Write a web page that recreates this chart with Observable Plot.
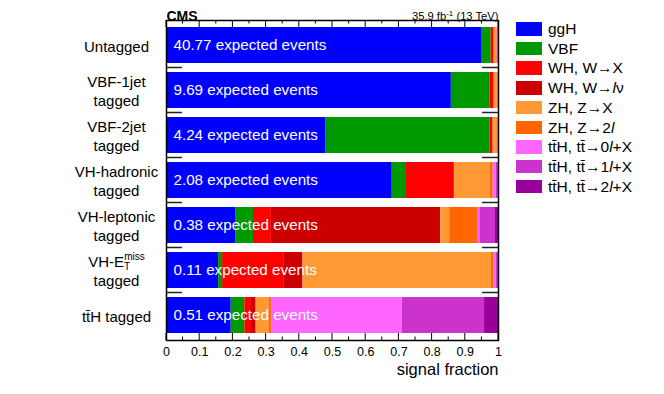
<!DOCTYPE html>
<html><head><meta charset="utf-8">
<script src="https://cdn.jsdelivr.net/npm/d3@7"></script>
<script src="https://cdn.jsdelivr.net/npm/@observablehq/plot@0.6"></script>
<style>
body{margin:0;background:#fff;font-family:"Liberation Sans",Arial,Helvetica,sans-serif;}
#wrap{position:relative;width:664px;height:394px;}
#legend{position:absolute;left:516px;top:19px;font-size:15.5px;color:#000;line-height:1;}
.row{display:flex;align-items:center;height:19.7px;white-space:nowrap;}
.sw{width:26px;height:13.5px;margin-right:6px;flex:none;}
</style></head><body><div id="wrap"><div id="legend"></div></div>
<script>
// categories (top to bottom)
const categories = ["Untagged","VBF-1jet tagged","VBF-2jet tagged","VH-hadronic tagged","VH-leptonic tagged","VH-ETmiss tagged","ttH tagged"];
const categoryLabels = ["Untagged","VBF-1jet\ntagged","VBF-2jet\ntagged","VH-hadronic\ntagged","VH-leptonic\ntagged","VH-E\ntagged","t\u0074\u0304H tagged"];
const expectedEvents = [40.77, 9.69, 4.24, 2.08, 0.38, 0.11, 0.51];

// signal processes
const processes = ["ggH","VBF","WH, W->X","WH, W->lv","ZH, Z->X","ZH, Z->2l","ttH, tt->0l+X","ttH, tt->1l+X","ttH, tt->2l+X"];
const legendLabels = ["ggH","VBF","WH, W\u2192X","WH, W\u2192<i>l</i>\u03bd","ZH, Z\u2192X","ZH, Z\u21922<i>l</i>",
  "tt\u0304H, tt\u0304\u21920<i>l</i>+X","tt\u0304H, tt\u0304\u21921<i>l</i>+X","tt\u0304H, tt\u0304\u21922<i>l</i>+X"];
const processColors = ["#0000ff","#009900","#ff0000","#cc0000","#ff9933","#ff6600","#ff66ff","#cc33cc","#990099"];

// signal fractions per category (same order as categories)
const ggH   = [0.951, 0.858, 0.481, 0.680, 0.208, 0.157, 0.195];
const VBF   = [0.027, 0.116, 0.493, 0.043, 0.054, 0.012, 0.041];
const WHX   = [0.008, 0.012, 0.009, 0.144, 0.054, 0.184, 0.020];
const WHlv  = [0.001, 0.001, 0.001, 0.001, 0.510, 0.058, 0.014];
const ZHX   = [0.007, 0.009, 0.011, 0.108, 0.027, 0.568, 0.040];
const ZH2l  = [0.002, 0.002, 0.002, 0.008, 0.086, 0.007, 0.006];
const ttH0l = [0.002, 0.001, 0.002, 0.009, 0.005, 0.007, 0.394];
const ttH1l = [0.001, 0.001, 0.001, 0.005, 0.047, 0.005, 0.248];
const ttH2l = [0.001, 0.000, 0.000, 0.002, 0.009, 0.002, 0.042];
const series = [ggH, VBF, WHX, WHlv, ZHX, ZH2l, ttH0l, ttH1l, ttH2l];

const xTicks = [0,0.1,0.2,0.3,0.4,0.5,0.6,0.7,0.8,0.9,1];
const xMinorTicks = [0.05,0.15,0.25,0.35,0.45,0.55,0.65,0.75,0.85,0.95];

const rows = processes.flatMap((p,i) => categories.map((c,j) => ({category:c, process:p, fraction:series[i][j]})));

const font = "'Liberation Sans', Arial, Helvetica, sans-serif";
const plot = Plot.plot({
  width:664, height:394,
  marginLeft:166, marginRight:166, marginTop:20, marginBottom:54,
  style:{fontFamily:font, background:"white", color:"black", overflow:"visible"},
  x:{domain:[0,1]},
  y:{domain:categories, paddingInner:0.19, paddingOuter:0.095},
  color:{domain:processes, range:processColors},
  marks:[
    Plot.barX(rows, {x:"fraction", y:"category", fill:"process", order:processes}),
    Plot.text(categories, {x:0, y:d=>d, text:(d,i)=>expectedEvents[i].toFixed(2)+" expected events",
      textAnchor:"start", dx:7, fill:"white", fontSize:15.2}),
    Plot.axisY({tickSize:0, tickPadding:50, textAnchor:"middle", fontSize:15, lineHeight:1.25,
      tickFormat:d=>categoryLabels[categories.indexOf(d)], label:null}),
    Plot.axisX({ticks:xTicks, tickSize:0, tickPadding:7, tickFormat:d=>String(d), fontSize:12.5, label:null}),
    Plot.text(["CMS"], {frameAnchor:"top-left", dy:-9, textAnchor:"start", fontWeight:"bold", fontSize:14}),
    Plot.text(["35.9 fb-1 (13 TeV)"], {frameAnchor:"top-right", dy:-8, textAnchor:"end", fontSize:11.2}),
    Plot.text(["signal fraction"], {frameAnchor:"bottom-right", dy:34, textAnchor:"end", fontSize:16.5}),
    Plot.frame({stroke:"black", strokeWidth:1.5})
  ]
});
document.getElementById("wrap").prepend(plot);

const svgNS = "http://www.w3.org/2000/svg";
const xs = plot.scale("x"), ys = plot.scale("y");
const fy0 = Math.min(ys.range[0], ys.range[1]), fy1 = Math.max(ys.range[0], ys.range[1]);
// axis ticks drawn inside the frame, below the bars
const barsG = plot.querySelector('g[aria-label="bar"]');
const tg = d3.create("svg:g").attr("stroke","black").attr("stroke-width",1);
for (const [arr,len] of [[xTicks,7],[xMinorTicks,3.5]]) {
  for (const t of arr) {
    const px = xs.apply(t);
    tg.append("line").attr("x1",px).attr("x2",px).attr("y1",fy0).attr("y2",fy0+len);
    tg.append("line").attr("x1",px).attr("x2",px).attr("y1",fy1).attr("y2",fy1-len);
  }
}
barsG.parentNode.insertBefore(tg.node(), barsG);
// category boundary ticks
const bg = d3.select(plot).append("g").attr("stroke","#222").attr("stroke-width",1.5);
const xl = xs.apply(0), xr = xs.apply(1);
for (let i=1;i<categories.length;i++){
  const yb = (ys.apply(categories[i-1]) + ys.bandwidth + ys.apply(categories[i]))/2;
  bg.append("line").attr("x1",xl).attr("x2",xl+16).attr("y1",yb).attr("y2",yb);
  bg.append("line").attr("x1",xr-16).attr("x2",xr).attr("y1",yb).attr("y2",yb);
}
// E_T^miss label
for (const ts of plot.querySelectorAll("text tspan")) {
  if (ts.textContent === "VH-E") {
    const s = document.createElementNS(svgNS,"tspan");
    s.setAttribute("font-size","10"); s.setAttribute("baseline-shift","-3"); s.textContent="T";
    const p = document.createElementNS(svgNS,"tspan");
    p.setAttribute("font-size","10"); p.setAttribute("baseline-shift","7"); p.setAttribute("dx","-6"); p.textContent="miss";
    ts.appendChild(s); ts.appendChild(p);
  }
}
for (const t of plot.querySelectorAll("text")) {
  if (t.textContent === "35.9 fb-1 (13 TeV)") {
    t.textContent = "";
    const a = document.createElementNS(svgNS,"tspan"); a.textContent = "35.9 fb";
    const b = document.createElementNS(svgNS,"tspan"); b.textContent = "-1"; b.setAttribute("font-size","8"); b.setAttribute("baseline-shift","4");
    const c = document.createElementNS(svgNS,"tspan"); c.textContent = " (13 TeV)";
    t.append(a,b,c);
  }
}
// legend
const lg = document.getElementById("legend");
processes.forEach((p,i) => {
  const r = document.createElement("div"); r.className = "row";
  r.innerHTML = `<div class="sw" style="background:${processColors[i]}"></div><span>${legendLabels[i]}</span>`;
  lg.appendChild(r);
});
</script></body></html>
